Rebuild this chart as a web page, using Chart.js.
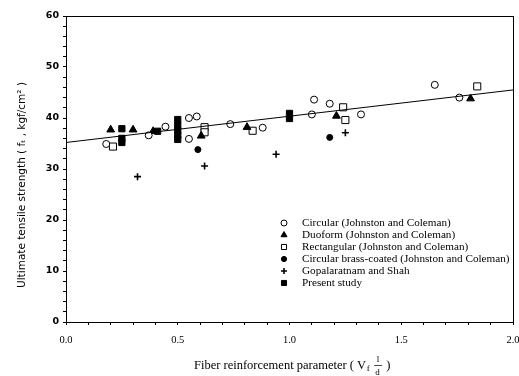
<!DOCTYPE html>
<html>
<head>
<meta charset="utf-8">
<script src="https://cdn.jsdelivr.net/npm/chart.js@4/dist/chart.umd.min.js"></script>
<style>
  html, body { margin: 0; padding: 0; background: #fff; }
  #wrap { width: 519px; height: 376px; }
</style>
</head>
<body>
<div id="wrap"><canvas id="chart" width="519" height="376"></canvas></div>
<script>
// data (x = Vf*l/d, y = ft in kgf/cm2)
const circularX = [0.18, 0.37, 0.445, 0.55, 0.585, 0.55, 0.735, 0.88, 1.10, 1.11, 1.18, 1.32, 1.65, 1.76];
const circularY = [34.9, 36.6, 38.3, 40.0, 40.3, 35.9, 38.8, 38.1, 40.7, 43.6, 42.8, 40.7, 46.5, 44.0];

const duoformX = [0.20, 0.30, 0.39, 0.605, 0.81, 1.21, 1.81];
const duoformY = [37.7, 37.7, 37.4, 36.5, 38.2, 40.4, 43.8];

const rectX = [0.21, 0.62, 0.62, 0.835, 1.24, 1.25, 1.84];
const rectY = [34.4, 38.2, 37.2, 37.5, 42.1, 39.6, 46.2];

const brassX = [0.59, 1.18];
const brassY = [33.8, 36.2];

const gopalX = [0.32, 0.62, 0.94, 1.25];
const gopalY = [28.5, 30.6, 32.9, 37.1];

const presentX = [0.25, 0.25, 0.25, 0.41, 0.50, 0.50, 0.50, 0.50, 0.50, 1.00, 1.00];
const presentY = [37.9, 36.0, 35.2, 37.4, 39.7, 38.5, 37.5, 36.6, 35.8, 40.9, 39.9];

const fitX = [0, 2];
const fitY = [35.2, 45.5];

const legendLabels = [
  'Circular (Johnston and Coleman)',
  'Duoform (Johnston and Coleman)',
  'Rectangular (Johnston and Coleman)',
  'Circular brass-coated (Johnston and Coleman)',
  'Gopalaratnam and Shah',
  'Present study'
];

const pts = (xs, ys) => xs.map((x, i) => ({ x: x, y: ys[i] }));

function series(label, xs, ys, style, radius, filled) {
  return {
    type: 'scatter',
    label: label,
    data: pts(xs, ys),
    pointStyle: style,
    pointRadius: radius,
    pointHoverRadius: radius,
    pointBorderWidth: style === 'cross' ? 1.6 : 1,
    pointBorderColor: '#000',
    pointBackgroundColor: filled ? '#000' : '#fff'
  };
}

const datasets = [
  {
    type: 'line',
    label: 'fit',
    data: pts(fitX, fitY),
    borderColor: '#000',
    borderWidth: 1,
    pointRadius: 0,
    fill: false
  },
  series(legendLabels[0], circularX, circularY, 'circle', 3.5, false),
  series(legendLabels[1], duoformX, duoformY, 'triangle', 4.5, true),
  series(legendLabels[2], rectX, rectY, 'rect', 5, false),
  series(legendLabels[3], brassX, brassY, 'circle', 3, true),
  series(legendLabels[4], gopalX, gopalY, 'cross', 3.5, true),
  series(legendLabels[5], presentX, presentY, 'rect', 4.4, true)
];

// frame, axis titles and legend
const decorations = {
  id: 'decorations',
  afterDraw(chart) {
    const ctx = chart.ctx;
    const a = chart.chartArea;
    ctx.save();
    ctx.strokeStyle = '#000';
    ctx.lineWidth = 1;
    ctx.strokeRect(a.left + 0.5, a.top + 0.5, a.right - a.left, a.bottom - a.top);

    // y title
    ctx.fillStyle = '#000';
    ctx.translate(22, 185);
    ctx.rotate(-Math.PI / 2);
    ctx.font = '10.5px "DejaVu Sans", sans-serif';
    ctx.textAlign = 'center';
    ctx.textBaseline = 'middle';
    ctx.fillText('Ultimate tensile strength ( f\u209C , kgf/cm\u00B2 )', 0, 0);
    ctx.restore();

    // x title with V_f l/d
    ctx.save();
    ctx.fillStyle = '#000';
    ctx.strokeStyle = '#000';
    ctx.textBaseline = 'alphabetic';
    ctx.font = '12.5px "Liberation Serif", serif';
    const main = 'Fiber reinforcement parameter ( V';
    let x = 194, y = 369;
    ctx.fillText(main, x, y);
    x += ctx.measureText(main).width;
    ctx.font = '9px "Liberation Serif", serif';
    ctx.fillText('f', x + 0.5, y + 2);
    x += 9;
    ctx.fillText('l', x + 1.5, y - 7);
    ctx.fillText('d', x, y + 6);
    ctx.beginPath();
    ctx.moveTo(x - 1, y - 3.5);
    ctx.lineTo(x + 7, y - 3.5);
    ctx.lineWidth = 0.7;
    ctx.stroke();
    x += 11;
    ctx.font = '12.5px "Liberation Serif", serif';
    ctx.fillText(')', x, y);

    // legend
    const helpers = Chart.helpers;
    ctx.font = '11.2px "Liberation Serif", serif';
    ctx.textBaseline = 'middle';
    ctx.textAlign = 'left';
    const sizes = [3, 3.5, 3.6, 2.6, 3, 3.6];
    for (let i = 0; i < legendLabels.length; i++) {
      const ds = chart.data.datasets[i + 1];
      const ly = 223 + i * 12;
      ctx.fillStyle = ds.pointBackgroundColor;
      ctx.strokeStyle = '#000';
      ctx.lineWidth = ds.pointBorderWidth;
      helpers.drawPoint(ctx, { pointStyle: ds.pointStyle, radius: sizes[i], borderWidth: ds.pointBorderWidth }, 284, ly);
      ctx.fillStyle = '#000';
      ctx.fillText(legendLabels[i], 302, ly + 0.5);
    }
    ctx.restore();
  }
};

new Chart(document.getElementById('chart'), {
  data: { datasets: datasets },
  options: {
    responsive: false,
    animation: false,
    events: [],
    layout: { padding: { top: 16, right: 4, left: 0, bottom: 0 } },
    plugins: { legend: { display: false }, tooltip: { enabled: false } },
    scales: {
      x: {
        type: 'linear',
        min: 0, max: 2,
        afterFit: s => { s.height = 54; s.paddingRight = 0; s.paddingLeft = 0; },
        border: { display: true, color: '#000', width: 1 },
        grid: { drawOnChartArea: false, drawTicks: true, tickLength: 3, color: '#000' },
        ticks: {
          stepSize: 0.1,
          autoSkip: false,
          maxRotation: 0,
          color: '#000',
          padding: 9,
          font: { family: '"Liberation Serif", serif', size: 10.5 },
          callback: v => (Math.round(v * 10) % 5 === 0 ? v.toFixed(1) : '')
        }
      },
      y: {
        type: 'linear',
        min: 0, max: 60,
        afterFit: s => { s.width = 66; s.paddingTop = 0; s.paddingBottom = 0; },
        border: { display: true, color: '#000', width: 1 },
        grid: { drawOnChartArea: false, drawTicks: true, tickLength: 3, color: '#000' },
        ticks: {
          stepSize: 2,
          autoSkip: false,
          color: '#000',
          padding: 4,
          font: { family: '"DejaVu Sans", sans-serif', size: 9.5, weight: 'bold' },
          callback: v => (v % 10 === 0 ? String(v) : '')
        }
      }
    }
  },
  plugins: [decorations]
});
</script>
</body>
</html>
